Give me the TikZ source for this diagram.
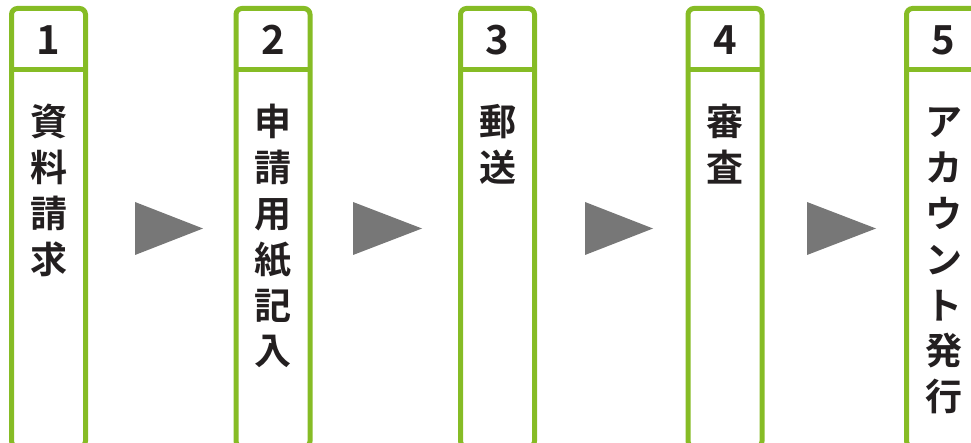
\documentclass[tikz,border=0pt]{standalone}
\usepackage{fontspec}
\setmainfont{Noto Sans CJK JP}[UprightFont=* Bold]
\definecolor{grn}{HTML}{86BC25}
\definecolor{tri}{HTML}{777777}
\definecolor{ink}{HTML}{231F20}
\tikzset{
  boxline/.style={draw=grn, line width=5pt, rounded corners=6pt},
  divline/.style={draw=grn, line width=5pt},
  numtext/.style={inner sep=0pt, anchor=base, text=ink, font=\fontsize{40}{46}\selectfont},
  coltext/.style={inner sep=0pt, anchor=base, text=ink},
  arrowtri/.style={fill=tri, draw=none}
}
\newcommand{\coltxt}[1]{\parbox[t]{60pt}{\centering\fontsize{37}{45.8}\selectfont #1}}
\begin{document}
\begin{tikzpicture}[x=1pt, y=-1pt]
\useasboundingbox (0,0) rectangle (971,443);
\clip (0,0) rectangle (971,443);
\foreach \cx/\i in {48.5/1, 273/2, 497.5/3, 725/4, 943.5/5}{
  \draw[boxline] (\cx-37,447) -- (\cx-37,8.5) -- (\cx+37,8.5) -- (\cx+37,447) -- cycle;
  \draw[divline] (\cx-37,70) -- (\cx+37,70);
}
\node[numtext] (n1) at (48.5,55) {1};
\node[numtext] (n2) at (273,55) {2};
\node[numtext] (n3) at (497.5,55) {3};
\node[numtext] (n4) at (725,55) {4};
\node[numtext] (n5) at (943.5,55) {5};
\node[coltext] (t1) at (48.5,136) {\coltxt{資\\料\\請\\求}};
\node[coltext] (t2) at (273,136) {\coltxt{申\\請\\用\\紙\\記\\入}};
\node[coltext] (t3) at (497.5,136) {\coltxt{郵\\送}};
\node[coltext] (t4) at (725,136) {\coltxt{審\\査}};
\node[coltext] (t5) at (943.5,136) {\coltxt{ア\\カ\\ウ\\ン\\ト\\発\\行}};
\fill[arrowtri] (135,202) -- (203,228.5) -- (135,255) -- cycle;
\fill[arrowtri] (353,202) -- (422,228.5) -- (353,255) -- cycle;
\fill[arrowtri] (585,202) -- (653,228.5) -- (585,255) -- cycle;
\fill[arrowtri] (807,202) -- (876,228.5) -- (807,255) -- cycle;
\end{tikzpicture}
\end{document}
